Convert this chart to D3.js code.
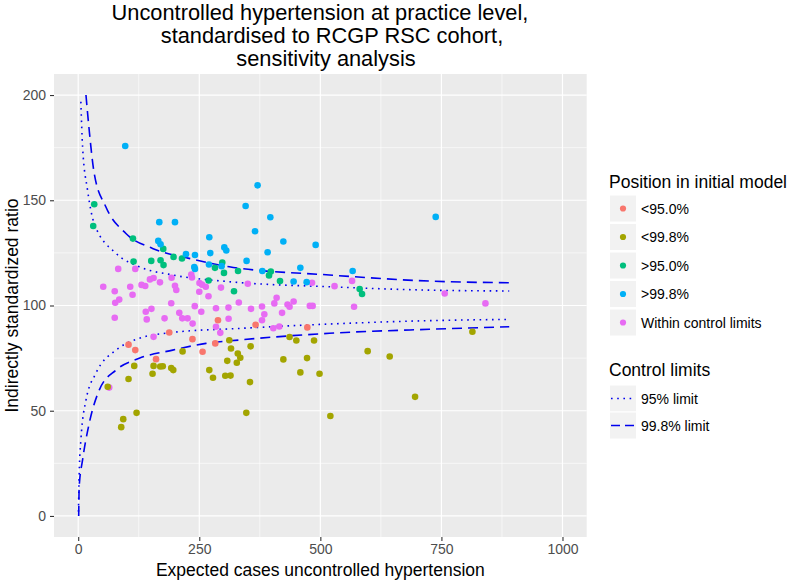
<!DOCTYPE html>
<html><head><meta charset="utf-8">
<script src="https://cdn.jsdelivr.net/npm/d3@7"></script>
<style>body{margin:0;background:#fff;} text{font-family:"Liberation Sans",Arial,sans-serif;}</style>
</head><body><svg id="c" width="796" height="582"></svg>
<script>
// ---------- data ----------
const titleLines = ["Uncontrolled hypertension at practice level,", "standardised to RCGP RSC cohort,", "sensitivity analysis"];
const xLabel = "Expected cases uncontrolled hypertension";
const yLabel = "Indirectly standardized ratio";
const xTicks = [0, 250, 500, 750, 1000];
const xMinor = [125, 375, 625, 875];
const yTicks = [0, 50, 100, 150, 200];
const yMinor = [25, 75, 125, 175];
const groupTitle = "Position in initial model";
const groupLabels = ["<95.0%", "<99.8%", ">95.0%", ">99.8%", "Within control limits"];
const groupColors = ["#F8766D", "#A3A500", "#00BF7D", "#00B0F6", "#E76BF3"];
const limitTitle = "Control limits";
const limitLabels = ["95% limit", "99.8% limit"];

const below95 = [[103.9,81.4],[117.8,78.8],[160.7,74.5],[188,87.2],[235.9,84],[256.8,78],[288.6,93],[283,82],[366.3,90.8],[473.1,89.6]];
const below998 = [[215.5,78.2],[115.7,71.3],[155.6,71.3],[169.4,71],[174.6,71.1],[153.5,67.6],[192.1,70.3],[196.3,69.3],[103.9,65.1],[60.9,61.4],[120.5,49],[93,46],[88.8,42.2],[270.7,69.3],[278.3,65.7],[303.7,66.6],[314.5,66.7],[307.8,73.7],[312,83.5],[315.5,79.6],[329.5,77.2],[334.7,75.2],[327.5,72.8],[356,80.6],[354.7,63.6],[347.1,49],[436.4,85],[450.4,83.4],[487,83.4],[423.6,74.4],[472.5,75],[458.7,68.2],[498.3,67.6],[520.7,47.5],[597.7,78.3],[643.2,75.8],[695.6,56.6],[814,87.5]];
const above95 = [[33.1,148.1],[31,137.8],[113,131.8],[114.3,120.9],[150.8,121.2],[170,121.5],[176.2,119.2],[175.6,126.9],[196.9,123.1],[214.3,122.3],[297.5,120.4],[282.4,117.9],[301,115.5],[269.2,111.9],[321.7,106.8],[330,116.4],[397.7,116.1],[394,114.3],[416.7,111.6],[581.2,107.8],[586.1,105.5]];
const above998 = [[97.1,175.8],[167.4,139.6],[199.8,139.6],[270.7,132.4],[165.3,130.7],[170,129.1],[222.5,124.4],[241.1,124],[239.7,118.3],[241.1,117.4],[272.7,124.9],[301.7,127.6],[305.8,126.1],[270,119.5],[296.1,118.7],[370.4,157.1],[345.7,147.3],[396.7,141.9],[365.1,135.3],[423.6,130.4],[490.3,128.8],[391.1,125.3],[347.7,121.2],[380.2,116.4],[458.7,117.9],[444.8,111.4],[471.7,111.1],[566.7,116.4],[738.2,142.1]];
const withinLimits = [[82.6,117.4],[117.8,117.4],[51.7,108.9],[75.4,106.8],[84.7,102.8],[76.4,101.3],[107.4,108.9],[112.2,105.1],[130.8,109.8],[138.4,109.3],[148.1,112.4],[155.6,113.1],[168.8,111],[192.8,113.2],[199.8,109.4],[202.5,107.4],[192.1,101.1],[151.2,98.4],[233.5,114.7],[234.9,113.3],[250.4,110.7],[255.6,109.9],[250,106.5],[269,104.4],[294.8,108.5],[284.5,98.7],[310.3,99],[331.6,101.4],[75.4,94.2],[139.5,97],[141.5,93.4],[178.3,93.9],[208.7,96.5],[214.9,93.9],[225.8,93.9],[236.2,91.4],[240.7,99.7],[254.1,97],[310.5,93.7],[284.5,89.9],[293.4,87],[155.6,85.1],[64,61],[263.4,108.9],[350.2,110.3],[482.8,110.8],[529.3,109.2],[565.5,111.7],[356.8,98.4],[379.5,99.5],[384.3,95.8],[379.5,93],[405,101],[409.7,103.7],[420.9,96.5],[432.2,100.5],[436.4,99.4],[444.8,101.9],[478.3,99.8],[484.1,99.8],[569.6,99.4],[402.9,89.2],[415.3,90],[756.8,105.7],[840.9,101]];

// control limit curves
const upper998 = [[16,200],[22.7,183.3],[33,162.8],[57,146.9],[98.5,134.2],[153.5,127.1],[229,122.4],[312,118.4],[518.6,114.5],[725,111.6],[890,110.8]];
const upper95 = [[5.5,196.8],[9,175.4],[19.3,154.8],[33,139],[78,124.8],[126,118.4],[195,114.5],[312,111.3],[518.6,108.9],[725,107.3],[890,106.9]];
const lower998 = [[1,0],[2,13.9],[9,26.6],[22.7,44],[43.4,59.8],[78,69.3],[126,74.9],[195,78.8],[264,82],[332.6,83.6],[518.6,86.8],[725,88.7],[890,89.9]];
const lower95 = [[0.5,2],[2,20],[5.5,36],[16,55],[36.5,67.8],[78,78.8],[126,84.4],[195,87.2],[332.6,89.1],[518.6,91.2],[725,92.8],[890,93.4]];

// ---------- drawing ----------
const svg = d3.select("#c");
const x = d3.scaleLinear().domain([-50, 1050]).range([54, 586.7]);
const y = d3.scaleLinear().domain([-10, 210]).range([537, 74]);

svg.append("rect").attr("x", 0).attr("y", 0).attr("width", 796).attr("height", 582).attr("fill", "#fff");
svg.append("rect").attr("x", x.range()[0]).attr("y", y.range()[1])
  .attr("width", x.range()[1] - x.range()[0]).attr("height", y.range()[0] - y.range()[1]).attr("fill", "#EBEBEB");

const grid = svg.append("g");
xMinor.forEach(v => grid.append("line").attr("x1", x(v)).attr("x2", x(v)).attr("y1", y.range()[0]).attr("y2", y.range()[1]).attr("stroke", "#fff").attr("stroke-width", 0.6));
yMinor.forEach(v => grid.append("line").attr("y1", y(v)).attr("y2", y(v)).attr("x1", x.range()[0]).attr("x2", x.range()[1]).attr("stroke", "#fff").attr("stroke-width", 0.6));
xTicks.forEach(v => grid.append("line").attr("x1", x(v)).attr("x2", x(v)).attr("y1", y.range()[0]).attr("y2", y.range()[1]).attr("stroke", "#fff").attr("stroke-width", 1.2));
yTicks.forEach(v => grid.append("line").attr("y1", y(v)).attr("y2", y(v)).attr("x1", x.range()[0]).attr("x2", x.range()[1]).attr("stroke", "#fff").attr("stroke-width", 1.2));

// control limits
const line = d3.line().x(d => x(d[0])).y(d => y(d[1])).curve(d3.curveMonotoneX);
const dotted = "1.6,4.6", dashed = "10,6";
[[upper95, dotted], [lower95, dotted], [upper998, dashed], [lower998, dashed]].forEach(([d, dash]) => {
  svg.append("path").attr("d", line(d)).attr("fill", "none").attr("stroke", "#0000EE")
    .attr("stroke-width", 1.6).attr("stroke-dasharray", dash);
});

// points
const groups = [withinLimits, below95, below998, above95, above998];
const gColor = [groupColors[4], groupColors[0], groupColors[1], groupColors[2], groupColors[3]];
groups.forEach((g, i) => {
  svg.append("g").selectAll("circle").data(g).join("circle")
    .attr("cx", d => x(d[0])).attr("cy", d => y(d[1])).attr("r", 3.3).attr("fill", gColor[i]);
});

// axes
const xAxis = svg.append("g").attr("transform", `translate(0,${y.range()[0]})`)
  .call(d3.axisBottom(x).tickValues(xTicks).tickFormat(d3.format("d")).tickSize(4).tickPadding(3));
const yAxis = svg.append("g").attr("transform", `translate(${x.range()[0]},0)`)
  .call(d3.axisLeft(y).tickValues(yTicks).tickFormat(d3.format("d")).tickSize(4).tickPadding(4));
[xAxis, yAxis].forEach(a => {
  a.select(".domain").remove();
  a.selectAll(".tick line").attr("stroke", "#333").attr("stroke-width", 1.1);
  a.selectAll(".tick text").attr("fill", "#4D4D4D").style("font-size", "14px").style("font-family", '"Liberation Sans",Arial,sans-serif');
});

// axis titles
svg.append("text").attr("x", (x.range()[0] + x.range()[1]) / 2).attr("y", 576).attr("text-anchor", "middle")
  .style("font-size", "17.5px").attr("fill", "#000").text(xLabel);
svg.append("text").attr("transform", `translate(18,${(y.range()[0] + y.range()[1]) / 2}) rotate(-90)`).attr("text-anchor", "middle")
  .style("font-size", "17.5px").attr("fill", "#000").text(yLabel);

// title
const titleX = [320, 332, 326];
const titleY = [20, 43, 66];
titleLines.forEach((t, i) => svg.append("text").attr("x", titleX[i]).attr("y", titleY[i]).attr("text-anchor", "middle")
  .style("font-size", "21.8px").attr("fill", "#000").text(t));

// legend: groups
const lg = svg.append("g");
lg.append("text").attr("x", 609).attr("y", 188).style("font-size", "17.5px").text(groupTitle);
groupLabels.forEach((lab, i) => {
  const cy = 208.5 + i * 28.5;
  lg.append("rect").attr("x", 609.5).attr("y", cy - 13.5).attr("width", 27).attr("height", 27).attr("fill", "#F2F2F2").attr("stroke", "#fff").attr("stroke-width", 1);
  lg.append("circle").attr("cx", 623).attr("cy", cy).attr("r", 3.1).attr("fill", groupColors[i]);
  lg.append("text").attr("x", 641).attr("y", cy + 5).style("font-size", "14px").text(lab);
});
// legend: limits
lg.append("text").attr("x", 609).attr("y", 376).style("font-size", "17.5px").text(limitTitle);
limitLabels.forEach((lab, i) => {
  const cy = 398.5 + i * 27;
  lg.append("rect").attr("x", 609.5).attr("y", cy - 13.5).attr("width", 27).attr("height", 27).attr("fill", "#F2F2F2").attr("stroke", "#fff").attr("stroke-width", 1);
  lg.append("line").attr("x1", 611).attr("x2", 634).attr("y1", cy).attr("y2", cy).attr("stroke", "#0000EE")
    .attr("stroke-width", 1.6).attr("stroke-dasharray", i === 0 ? dotted : "9,5");
  lg.append("text").attr("x", 641).attr("y", cy + 5).style("font-size", "14px").text(lab);
});
</script></body></html>
